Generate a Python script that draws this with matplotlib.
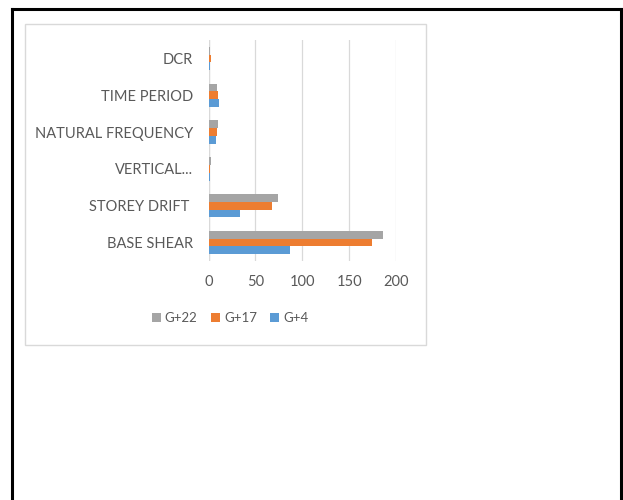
import matplotlib
matplotlib.use("Agg")
import matplotlib.pyplot as plt
from matplotlib.patches import Rectangle
from matplotlib.lines import Line2D
import numpy as np

categories = ["BASE SHEAR", "STOREY DRIFT ", "VERTICAL...", "NATURAL FREQUENCY", "TIME PERIOD", "DCR"]
g4 = [87, 34, 1.5, 8, 11, 1]
g17 = [174, 68, 2, 9, 9.8, 2.4]
g22 = [186, 74, 3, 9.5, 9.3, 1.7]
x_ticks = [0, 50, 100, 150, 200]

plt.rcParams['font.family'] = ['Lato', 'DejaVu Sans']
W, H = 623, 500
fig = plt.figure(figsize=(W/100, H/100), dpi=100)

# outer black frame
for (x0, y0, x1, y1) in [(12, 9, 621, 9), (12, 9, 12, 500), (621, 9, 621, 500)]:
    fig.add_artist(Line2D([x0/W, x1/W], [1-y0/H, 1-y1/H], color='black', lw=2.2, transform=fig.transFigure))

# chart box
fig.add_artist(Rectangle((24.5/W, 1-345/H), (426-24.5)/W, (345-24)/H, fill=False,
                         edgecolor='#d9d9d9', lw=1, transform=fig.transFigure))

ax = fig.add_axes([208.6/W, 1-261/H, (396-208.6)/W, (261-40)/H])
y = np.arange(len(categories))
bh = 0.21
ax.barh(y - bh, g4, height=bh, color='#5B9BD5', label='G+4')
ax.barh(y, g17, height=bh, color='#ED7D31', label='G+17')
ax.barh(y + bh, g22, height=bh, color='#A5A5A5', label='G+22')
ax.set_ylim(-0.5, len(categories) - 0.5)
ax.set_xlim(0, 200)
ax.set_xticks(x_ticks)
ax.set_yticks(y)
ax.set_yticklabels(categories)
ax.tick_params(axis='both', length=0, labelsize=10.5, colors='#595959')
ax.tick_params(axis='x', pad=10)
ax.tick_params(axis='y', pad=11)
for s in ax.spines.values():
    s.set_visible(False)
ax.grid(axis='x', color='#d9d9d9', lw=0.9)
ax.set_axisbelow(True)
ax.axvline(0, color='#d9d9d9', lw=0.9, zorder=0)

handles, labels = ax.get_legend_handles_labels()
leg = fig.legend(handles[::-1], labels[::-1], loc='center', bbox_to_anchor=(230/W, 1-318/H),
                 ncol=3, frameon=False, fontsize=9.5, handlelength=0.7, handleheight=0.7,
                 handletextpad=0.3, columnspacing=1.0, labelcolor='#595959')

fig.savefig("out.png", dpi=100)
